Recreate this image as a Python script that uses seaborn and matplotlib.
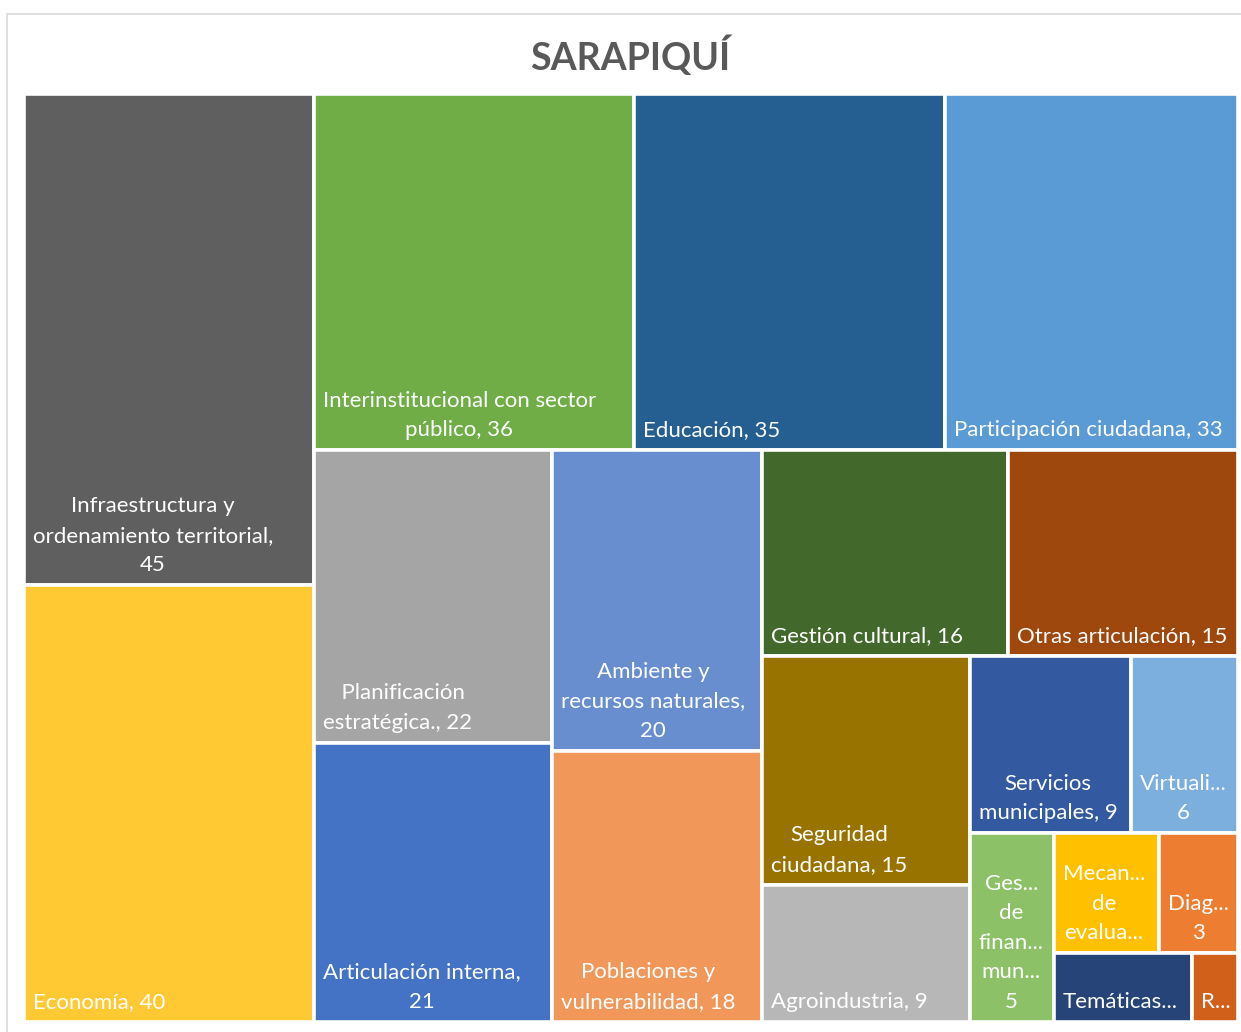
import matplotlib
matplotlib.use("Agg")
import matplotlib.pyplot as plt
from matplotlib.patches import Rectangle
import seaborn as sns

# values (treemap, Excel-style layout)
labels = [
    "Infraestructura y\nordenamiento territorial,\n45",
    "Economía, 40",
    "Interinstitucional con sector\npúblico, 36",
    "Educación, 35",
    "Participación ciudadana, 33",
    "  Planificación\nestratégica., 22",
    "Articulación interna,\n21",
    "Ambiente y\nrecursos naturales,\n20",
    "Poblaciones y\nvulnerabilidad, 18",
    "Gestión cultural, 16",
    "Otras articulación, 15",
    "Seguridad\nciudadana, 15",
    "Agroindustria, 9",
    "Servicios\nmunicipales, 9",
    "Virtuali...\n6",
    "Ges...\nde\nfinan...\nmun...\n5",
    "Mecan...\nde\nevalua...",
    "Diag...\n3",
    "Temáticas...",
    "R...",
]
values = [45, 40, 36, 35, 33, 22, 21, 20, 18, 16, 15, 15, 9, 9, 6, 5, 4, 3, 3, 1]
colors = [
    "#5f5f5f", "#ffc933", "#70ad47", "#255e91", "#5b9bd5",
    "#a5a5a5", "#4472c4", "#698ed0", "#f1975a", "#43682b",
    "#9e480e", "#997300", "#b7b7b7", "#335aa1", "#7cafdd",
    "#8cc168", "#ffc000", "#ed7d31", "#264478", "#d0601a",
]
# how many items go in each strip of the layout
strips = [2, 3, 2, 2, 2, 2, 2, 1, 2, 1, 1]


def strip_layout(vals, groups, x, y, w, h):
    rects = []
    i = 0
    for n in groups:
        grp = vals[i:i + n]
        g = sum(grp)
        s = sum(vals[i:])
        if w >= h:
            sw = w * g / s
            yy = y
            for v in grp:
                hh = h * v / g
                rects.append((x, yy, sw, hh))
                yy += hh
            x += sw
            w -= sw
        else:
            sh = h * g / s
            xx = x
            for v in grp:
                ww = w * v / g
                rects.append((xx, y, ww, sh))
                xx += ww
            y += sh
            h -= sh
        i += n
    return rects


sns.set_theme(style="white")
plt.rcParams["font.family"] = ["Lato", "DejaVu Sans"]

W, H = 1214, 928
fig = plt.figure(figsize=(12.41, 10.32), dpi=100)
fig.patches.append(Rectangle((7 / 1241, -0.1), 1.2, 1 - 14 / 1032 + 0.1,
                             transform=fig.transFigure, fill=False,
                             edgecolor="#d9d9d9", lw=1.2))
ax = fig.add_axes([24 / 1241, 1 - 1022 / 1032, W / 1241, H / 1032])
ax.set_xlim(0, W)
ax.set_ylim(H, 0)
ax.axis("off")

rects = strip_layout(values, strips, 0, 0, W, H)
for (x, y, w, h), lab, c in zip(rects, labels, colors):
    ax.add_patch(Rectangle((x, y), w, h, facecolor=c, edgecolor="white", lw=2.6))
    ax.text(x + 9, y + h - 10, lab, ha="left", va="bottom", multialignment="center",
            color="white", fontsize=16, linespacing=1.6)

fig.text(0.508, 1 - 56 / 1032, "SARAPIQUÍ", ha="center", va="center",
         fontsize=27, fontweight="bold", color="#595959")

fig.savefig("out.png", dpi=100, facecolor="white")
